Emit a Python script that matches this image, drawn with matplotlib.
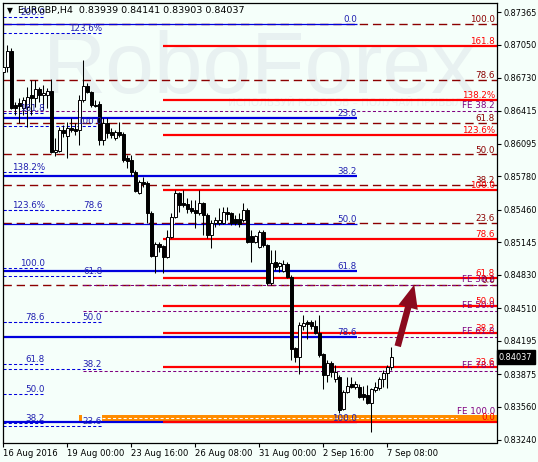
import matplotlib
matplotlib.use('Agg')
import matplotlib.pyplot as plt
from matplotlib.patches import Rectangle, FancyArrowPatch
from matplotlib.transforms import blended_transform_factory
import numpy as np

plt.rcParams['lines.scale_dashes'] = False

# EURGBP H4 candles, 16 Aug 2016 08:00 .. 7 Sep 2016 12:00
opens = [0.86787, 0.86836, 0.86989, 0.86469, 0.86488, 0.86440, 0.86450, 0.86566, 0.86537, 0.86623,
         0.86566, 0.86566, 0.86604, 0.86016, 0.86025, 0.86228, 0.86170, 0.86247, 0.86238, 0.86228,
         0.86517, 0.86652, 0.86595, 0.86469, 0.86479, 0.86132, 0.86295, 0.86209, 0.86151, 0.86209,
         0.86190, 0.85958, 0.85939, 0.85823, 0.85620, 0.85727, 0.85717, 0.85428, 0.85013, 0.85129,
         0.85109, 0.85003, 0.85196, 0.85389, 0.85620, 0.85524, 0.85514, 0.85476, 0.85457, 0.85428,
         0.85524, 0.85408, 0.85216, 0.85331, 0.85331, 0.85331, 0.85437, 0.85428, 0.85370, 0.85370,
         0.85360, 0.85457, 0.85206, 0.85148, 0.85100, 0.85245, 0.85119, 0.84753, 0.84956, 0.84917,
         0.84869, 0.84936, 0.84811, 0.84126, 0.84040, 0.84338, 0.84377, 0.84377, 0.84338, 0.84271,
         0.84069, 0.83866, 0.83982, 0.83828, 0.83847, 0.83538, 0.83702, 0.83779, 0.83750, 0.83750,
         0.83683, 0.83673, 0.83596, 0.83721, 0.83741, 0.83828, 0.83885, 0.83943]
highs = [0.87192, 0.87048, 0.87019, 0.86498, 0.86537, 0.86547, 0.86643, 0.86710, 0.86710, 0.86643,
         0.86662, 0.86633, 0.86720, 0.86151, 0.86257, 0.86276, 0.86305, 0.86344, 0.86295, 0.86566,
         0.86903, 0.86681, 0.86604, 0.86517, 0.86508, 0.86344, 0.86344, 0.86247, 0.86228, 0.86305,
         0.86209, 0.85987, 0.85987, 0.85842, 0.85746, 0.85775, 0.85736, 0.85447, 0.85148, 0.85148,
         0.85119, 0.85264, 0.85428, 0.85649, 0.85630, 0.85649, 0.85572, 0.85553, 0.85553, 0.85649,
         0.85534, 0.85428, 0.85360, 0.85389, 0.85476, 0.85486, 0.85486, 0.85437, 0.85408, 0.85428,
         0.85524, 0.85476, 0.85264, 0.85216, 0.85264, 0.85264, 0.85129, 0.85071, 0.85071, 0.84956,
         0.84975, 0.84956, 0.84830, 0.84136, 0.84377, 0.84445, 0.84396, 0.84396, 0.84396, 0.84445,
         0.84078, 0.84011, 0.84001, 0.83963, 0.83866, 0.83721, 0.83847, 0.83847, 0.83808, 0.83779,
         0.83760, 0.83770, 0.83741, 0.83799, 0.83847, 0.83914, 0.83963, 0.84136]
lows = [0.86710, 0.86787, 0.86430, 0.86373, 0.86295, 0.86373, 0.86257, 0.86373, 0.86450, 0.86498,
        0.86421, 0.86440, 0.86006, 0.85977, 0.86016, 0.86161, 0.85958, 0.86209, 0.86180, 0.86084,
        0.86498, 0.86585, 0.86450, 0.86450, 0.86084, 0.86084, 0.86151, 0.86151, 0.86132, 0.86161,
        0.85920, 0.85862, 0.85784, 0.85630, 0.85611, 0.85679, 0.85331, 0.85003, 0.84849, 0.85052,
        0.84849, 0.84994, 0.85186, 0.85380, 0.85437, 0.85486, 0.85428, 0.85428, 0.85283, 0.85408,
        0.85216, 0.85186, 0.85090, 0.85293, 0.85312, 0.85322, 0.85360, 0.85312, 0.85312, 0.85293,
        0.85341, 0.85138, 0.84956, 0.85138, 0.85090, 0.85100, 0.84734, 0.84734, 0.84878, 0.84859,
        0.84859, 0.84801, 0.84011, 0.83992, 0.83876, 0.84300, 0.84213, 0.84309, 0.84261, 0.84040,
        0.83731, 0.83799, 0.83847, 0.83799, 0.83500, 0.83529, 0.83692, 0.83741, 0.83731, 0.83644,
        0.83625, 0.83587, 0.83317, 0.83702, 0.83721, 0.83750, 0.83741, 0.83914]
closes = [0.86836, 0.86989, 0.86440, 0.86440, 0.86459, 0.86517, 0.86547, 0.86537, 0.86623, 0.86566,
          0.86585, 0.86604, 0.86016, 0.86035, 0.86228, 0.86199, 0.86247, 0.86228, 0.86218, 0.86517,
          0.86652, 0.86595, 0.86469, 0.86459, 0.86132, 0.86295, 0.86199, 0.86180, 0.86209, 0.86180,
          0.85939, 0.85929, 0.85823, 0.85640, 0.85727, 0.85707, 0.85428, 0.85013, 0.85129, 0.85100,
          0.85003, 0.85196, 0.85389, 0.85620, 0.85505, 0.85505, 0.85466, 0.85447, 0.85428, 0.85524,
          0.85408, 0.85216, 0.85331, 0.85360, 0.85360, 0.85437, 0.85418, 0.85331, 0.85331, 0.85322,
          0.85457, 0.85148, 0.85148, 0.85206, 0.85245, 0.85119, 0.84753, 0.84946, 0.84907, 0.84946,
          0.84936, 0.84811, 0.84117, 0.84040, 0.84348, 0.84367, 0.84358, 0.84338, 0.84271, 0.84059,
          0.83866, 0.83982, 0.83895, 0.83895, 0.83529, 0.83702, 0.83760, 0.83750, 0.83779, 0.83654,
          0.83654, 0.83596, 0.83731, 0.83750, 0.83828, 0.83885, 0.83943, 0.84037]

xtick_pos = [0, 16, 32, 48, 64, 80, 96]
xtick_labels = ['16 Aug 2016', '19 Aug 00:00', '23 Aug 16:00', '26 Aug 08:00',
                '31 Aug 00:00', '2 Sep 16:00', '7 Sep 08:00']
ytick_vals = [0.87365, 0.87050, 0.86730, 0.86415, 0.86095, 0.85780, 0.85460,
              0.85145, 0.84830, 0.84510, 0.84195, 0.83875, 0.83560, 0.83240]

# fibonacci objects
red_levels = [0.87040, 0.86514, 0.86180, 0.85649, 0.85177, 0.84804, 0.84534, 0.84271, 0.83943, 0.83416]
red_labels = ['161.8', '138.2%', '123.6%', '100.0', '78.6', '61.8', '50.0', '38.2', '23.6', '0.0']

maroon_levels = [0.87250, 0.86710, 0.86295, 0.85992, 0.85697, 0.85334, 0.84734]
maroon_labels = ['100.0', '78.6', '61.8', '50.0', '38.2', '23.6', '0.0']

blue_levels = [0.87254, 0.86344, 0.85784, 0.85322, 0.84871, 0.84232, 0.83408]
blue_labels = ['0.0', '23.6', '38.2', '50.0', '61.8', '78.6', '100.0']
blue_thick = [False, True, True, False, True, True, True]

fe_levels = [0.86411, 0.84734, 0.84483, 0.84232, 0.83904]
fe_labels = ['FE 38.2', 'FE 38.2', 'FE 50.0', 'FE 61.8', 'FE 78.6']
fe_top_level = 0.83452
fe_top_label = 'FE 100.0'

ext_levels = [0.87317, 0.86392, 0.85823, 0.85457, 0.84897, 0.84377, 0.83972, 0.83683, 0.83403]
ext_labels = ['200.0', '161.8', '138.2%', '123.6%', '100.0', '78.6', '61.8', '50.0', '38.2']

fib2_levels = [0.87163, 0.86266, 0.85457, 0.84820, 0.84377, 0.83924, 0.83374]
fib2_labels = ['123.6%', '100.0', '78.6', '61.8', '50.0', '38.2', '23.6']

band_top, band_bottom = 0.83476, 0.83424
last_price = 0.84037
arrow_from = (98.4, 0.84117)
arrow_to = (102.9, 0.84763)

BG = '#F5FFFA'
RED = '#FF0000'
MAROON = '#8B0000'
BLUE = '#0000DD'
BLUE_TXT = '#2020B0'
PURPLE = '#800080'
ORANGE = '#FF8C00'

W, H = 538, 462
fig = plt.figure(figsize=(W / 100, H / 100), dpi=100, facecolor=BG)
ax = fig.add_axes([3 / W, (H - 442.5) / H, 494 / W, 439.5 / H])
ax.set_facecolor(BG)
x_lo, x_hi = -0.08, 123.4
ax.set_xlim(x_lo, x_hi)
ax.set_ylim(0.83215, 0.87452)

# watermark
ax.text(0.08, 0.795, 'RoboForex', transform=ax.transAxes, fontsize=63,
        family='Liberation Sans', color='#E8F1F1', zorder=0.5)
ax.text(0.945, 0.765, 'ИСПОЛЬЗУЙ РОБОТОВ – ПОЛУЧАЙ ПРИБЫЛЬ', transform=ax.transAxes,
        fontsize=7.5, color='#EAF3F2', ha='right', zorder=0.5)

lbl = dict(fontsize=6.3, va='baseline', zorder=6)
off = 0.00018

# maroon dashed fib
ax.hlines(maroon_levels, x_lo, x_hi, colors=MAROON, lw=1.0, linestyles=[(0, (6, 3.5))], zorder=1)
for v, t in zip(maroon_levels, maroon_labels):
    ax.text(122.9, v + off, t, color=MAROON, ha='right', **lbl)

# purple FE lines
ax.hlines(fe_levels[0], x_lo, x_hi, colors=PURPLE, lw=0.75, linestyles=[(0, (2.2, 1.6))], zorder=1.2)
ax.hlines(fe_levels[1:], 19.9, x_hi, colors=PURPLE, lw=0.75, linestyles=[(0, (2.2, 1.6))], zorder=1.2)
for v, t in zip(fe_levels, fe_labels):
    ax.text(122.9, v + off * 1.4, t, color=PURPLE, ha='right', **lbl)

# orange band
ax.add_patch(Rectangle((24.7, band_bottom), x_hi - 24.7, band_top - band_bottom,
                       facecolor=ORANGE, edgecolor='none', zorder=1.3))
ax.add_patch(Rectangle((18.9, band_bottom - 0.00008), 0.8, band_top - band_bottom + 0.00008,
                       facecolor=ORANGE, edgecolor='none', zorder=1.3))
ax.hlines(fe_top_level, 24.7, x_hi - 10, colors='white', lw=0.75, linestyles=[(0, (2.2, 1.6))], zorder=1.4)
ax.text(122.9, band_top + 0.0001, fe_top_label, color=PURPLE, ha='right', **lbl)

# left blue dashed fibs
ax.hlines(ext_levels, x_lo, 10.4, colors=BLUE, lw=0.75, linestyles=[(0, (2.2, 1.6))], zorder=1.5)
for v, t in zip(ext_levels, ext_labels):
    ax.text(10.4, v + off, t, color=BLUE_TXT, ha='right', **lbl)
ax.hlines(fib2_levels, x_lo, 24.7, colors=BLUE, lw=0.75, linestyles=[(0, (2.2, 1.6))], zorder=1.5)
for v, t in zip(fib2_levels, fib2_labels):
    ax.text(24.7, v + off, t, color=BLUE_TXT, ha='right', **lbl)

# blue solid fib
for v, thick in zip(blue_levels, blue_thick):
    ax.hlines(v, x_lo, 88.4, colors=BLUE, lw=1.6 if thick else 0.9, zorder=1.6)
for v, t in zip(blue_levels, blue_labels):
    ax.text(88.4, v + off, t, color=BLUE_TXT, ha='right', **lbl)

# red solid fib
ax.hlines(red_levels, 39.9, x_hi, colors=RED, lw=1.6, zorder=1.7)
for v, t in zip(red_levels, red_labels):
    ax.text(122.9, v + off, t, color=RED, ha='right', **lbl)

# candles
idx = np.arange(len(opens))
o = np.array(opens)
c = np.array(closes)
up = c >= o
ax.vlines(idx, lows, highs, colors='black', lw=0.75, zorder=3)
body = np.maximum(np.abs(c - o), 0.00004)
ax.bar(idx, body, bottom=np.minimum(o, c), width=0.62,
       color=np.where(up, 'white', 'black'), edgecolor='black', linewidth=0.7, zorder=4)

# arrow
ax.add_patch(FancyArrowPatch(arrow_from, arrow_to,
                             arrowstyle='simple,head_length=1.3,head_width=1.1,tail_width=0.36',
                             mutation_scale=13, color='#8B0A1E', lw=0, zorder=5))

# title
ax.text(0.009, 0.984, '▼', transform=ax.transAxes, fontsize=5.5, va='center', zorder=7)
ax.text(0.031, 0.984, 'EURGBP,H4  0.83939 0.84141 0.83903 0.84037', transform=ax.transAxes,
        fontsize=6.8, va='center', color='black', zorder=7)

# axes
for s in ax.spines.values():
    s.set_color('black')
    s.set_linewidth(0.9)
ax.yaxis.tick_right()
ax.set_yticks(ytick_vals)
ax.set_yticklabels(['%.5f' % v for v in ytick_vals])
ax.tick_params(axis='y', length=3, width=0.8, labelsize=5.9, pad=1.5)
ax.set_xticks(xtick_pos)
ax.set_xticklabels(xtick_labels, ha='left')
ax.tick_params(axis='x', length=3, width=0.8, labelsize=6.1, pad=2)

trans = blended_transform_factory(ax.transAxes, ax.transData)
ax.text(1.004, last_price, '0.84037', transform=trans, fontsize=5.9, color='white', va='center',
        ha='left', bbox=dict(facecolor='black', edgecolor='black', boxstyle='square,pad=0.3'),
        zorder=8, clip_on=False)

fig.savefig('out.png', dpi=100, facecolor=BG)
